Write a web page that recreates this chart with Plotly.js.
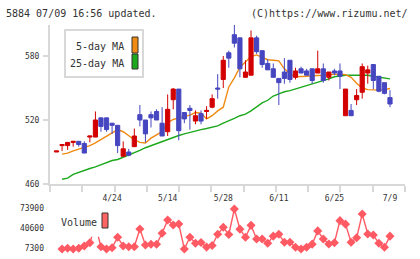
<!DOCTYPE html>
<html>
<head>
<meta charset="utf-8">
<script src="https://cdn.plot.ly/plotly-3.0.1.min.js"></script>
<style>
  html, body { margin: 0; padding: 0; background: #fff; }
  #chart { width: 420px; height: 259px; }
</style>
</head>
<body>
<div id="chart"></div>
<script>
// Daily prices for 5884, oldest first (index 0 .. 60)
const openPrice  = [490,496,496,499,500,498,504,504,522,522,517,515,486,490,495,525,520,525,528,517,
                    509,539,549,527,531,519,526,528,532,550,558,583,600,597,560,562,597,585,573,568,
                    559,565,576,560,568,566,568,564,568,560,566,566,524,529,539,546,564,572,561,555,541];
const highPrice  = [491,497,499,500,500,500,505,528,522,522,517,515,500,493,512,534,520,528,530,532,
                    544,550,549,527,534,529,529,533,544,563,580,585,612,597,576,604,599,585,577,573,
                    559,578,576,569,570,568,568,585,573,565,568,573,549,535,549,573,571,572,561,555,548];
const lowPrice   = [490,491,492,495,495,489,499,504,509,509,507,489,486,486,495,514,499,513,520,505,
                    505,530,501,517,511,516,516,521,531,540,550,569,588,560,560,562,582,569,567,560,
                    534,554,555,558,564,562,554,564,555,557,562,549,524,524,534,540,554,549,546,544,532];
const closePrice = [491,497,499,500,497,489,505,520,514,511,515,496,493,487,505,520,507,522,520,505,
                    530,549,510,521,529,524,519,529,540,549,576,578,592,568,565,597,584,572,567,560,
                    555,559,558,566,564,562,557,568,557,565,564,561,549,524,543,570,567,557,547,545,535];

// Moving averages (first session has no value)
const ma5  = [null,488,489,491,492.5,494.5,496,498.5,501.5,504.5,508,511,509,505.5,501.5,499,498.5,503,506,509,
              517.5,520.5,522,523,524.5,527,526.5,521,524,528.5,532,551,559.5,569.5,575,579.5,581,579,576.5,576,
              575.5,568,563.5,560.5,560.5,561,561.5,561.5,562,562.5,563,563,562.5,560,554.5,550,548.5,548,548,548.5,549.5];
const ma25 = [null,464.5,465.5,469,471,473,474.5,476,478,480,482,483,485,487.5,489.5,491.5,494,496,497.5,499.5,
              502,504,505.5,507,508.5,509.5,511,512,513.5,514.5,517,519,521.5,524,525.5,528.5,532,536,538.5,542.5,
              544.5,546.5,547.5,549,550.5,552,553.5,555,556.5,558.5,560.5,561.5,562,562,562,562,562,561,560,559.5,558.5];

// Daily volume (shares)
const volume = [null,5600,6800,5600,6800,10600,16100,45000,9500,5600,7800,25100,10600,9500,9500,38900,12300,13500,13500,31800,
                53900,45600,47300,5600,25100,15100,16500,8800,11500,30100,41800,29800,72200,38700,25100,45000,22300,22300,15100,27000,
                30300,16800,16800,8500,5600,8500,13700,35800,22300,14000,16000,52800,47000,16800,24300,63900,30600,28900,15100,8500,27000];

// Date labels every ten sessions
const labelSessions = [10, 20, 30, 40, 50, 60];
const labelDates    = ['4/24', '5/14', '5/28', '6/11', '6/25', '7/9'];

const priceTicks  = [460, 520, 580];
const volumeTicks = [7300, 40600, 73900];

const session = closePrice.map((_, i) => i);

// pixel -> paper helpers for the plot box (x 50..405, y 25..254)
const PX0 = 50, PX1 = 405, PY0 = 25, PY1 = 254;
const px = x => (x - PX0) / (PX1 - PX0);
const py = y => (PY1 - y) / (PY1 - PY0);

const RED = '#d20000', BLUE = '#4646c0', ORANGE = '#f08a12', GREEN = '#1ca81c', VOL = '#ff5a64';
const AXIS = '#d8d8d8', TEXT = '#333';
const MONO = 'DejaVu Sans Mono, monospace';

const xRange = [-1.17, 62.7];

const traces = [
  { type: 'scatter', mode: 'lines', x: session, y: ma25, xaxis: 'x', yaxis: 'y',
    line: { color: GREEN, width: 1.4 }, connectgaps: false, hoverinfo: 'skip' },
  { type: 'scatter', mode: 'lines', x: session, y: ma5, xaxis: 'x', yaxis: 'y',
    line: { color: ORANGE, width: 1.4 }, connectgaps: false, hoverinfo: 'skip' },
  { type: 'candlestick', x: session, open: openPrice, high: highPrice, low: lowPrice, close: closePrice,
    xaxis: 'x', yaxis: 'y4', whiskerwidth: 0,
    increasing: { line: { color: RED, width: 1 }, fillcolor: RED },
    decreasing: { line: { color: BLUE, width: 1 }, fillcolor: BLUE } },
  { type: 'scatter', mode: 'lines+markers', x: session, y: volume, xaxis: 'x2', yaxis: 'y2',
    line: { color: VOL, width: 1.4 }, marker: { symbol: 'diamond', size: 7, color: VOL },
    connectgaps: false, hoverinfo: 'skip' },
  // empty trace so the tick-mark axis is laid out
  { type: 'scatter', mode: 'lines', x: [], y: [], xaxis: 'x3', yaxis: 'y', hoverinfo: 'skip' }
];

const layout = {
  width: 420, height: 259,
  margin: { l: PX0, r: 420 - PX1, t: PY0, b: 259 - PY1, pad: 0 },
  paper_bgcolor: '#fff', plot_bgcolor: '#fff',
  showlegend: false,
  font: { family: MONO, size: 8, color: TEXT },
  boxgap: 0.25, boxgroupgap: 0,
  xaxis: {
    domain: [0, 1], anchor: 'y', range: xRange, fixedrange: true,
    tickmode: 'array', tickvals: labelSessions, ticktext: labelDates,
    ticks: '', showline: false, showgrid: false, zeroline: false,
    ticklabelstandoff: 8, tickfont: { family: MONO, size: 8, color: TEXT },
    rangeslider: { visible: false }
  },
  xaxis3: {
    overlaying: 'x', anchor: 'y', range: [0, 11], fixedrange: true,
    tickmode: 'array', tickvals: [0,1,2,3,4,5,6,7,8,9,10,11],
    ticks: 'outside', ticklen: 6, tickwidth: 2, tickcolor: AXIS,
    showticklabels: false, showline: true, linecolor: AXIS, linewidth: 2,
    showgrid: false, zeroline: false
  },
  yaxis: {
    domain: [py(184), 1], anchor: 'x', range: [460, 609.06], fixedrange: true,
    tickmode: 'array', tickvals: priceTicks, ticktext: priceTicks.map(String),
    ticks: 'outside', ticklen: 5, tickwidth: 2, tickcolor: AXIS,
    showline: true, linecolor: AXIS, linewidth: 2,
    showgrid: false, zeroline: false,
    ticklabelstandoff: 2, tickfont: { family: MONO, size: 8, color: TEXT }
  },
  yaxis4: {
    overlaying: 'y', anchor: 'x', range: [460, 609.06], visible: false, fixedrange: true
  },
  xaxis2: {
    domain: [0, 1], anchor: 'y2', range: xRange, fixedrange: true,
    showticklabels: false, ticks: '', showline: false, showgrid: false, zeroline: false
  },
  yaxis2: {
    domain: [0, py(204)], anchor: 'x2', range: [-2690, 80560], fixedrange: true,
    tickmode: 'array', tickvals: volumeTicks, ticktext: volumeTicks.map(String),
    ticks: '', showline: false, showgrid: false, zeroline: false,
    ticklabelstandoff: 5, tickfont: { family: MONO, size: 8, color: TEXT }
  },
  shapes: [
    // price legend frame
    { type: 'rect', xref: 'paper', yref: 'paper', layer: 'above',
      x0: px(65), x1: px(143), y0: py(77), y1: py(30),
      line: { color: AXIS, width: 2 }, fillcolor: '#fff' },
    { type: 'rect', xref: 'paper', yref: 'paper', layer: 'above',
      x0: px(132), x1: px(138), y0: py(53), y1: py(37),
      line: { color: '#333', width: 1 }, fillcolor: ORANGE },
    { type: 'rect', xref: 'paper', yref: 'paper', layer: 'above',
      x0: px(132), x1: px(138), y0: py(69), y1: py(54),
      line: { color: '#333', width: 1 }, fillcolor: GREEN },
    // volume legend background
    { type: 'rect', xref: 'paper', yref: 'paper', layer: 'above',
      x0: px(54), x1: px(113), y0: py(236.7), y1: py(206),
      line: { width: 0 }, fillcolor: '#fff' },
    { type: 'rect', xref: 'paper', yref: 'paper', layer: 'above',
      x0: px(102), x1: px(108), y0: py(228), y1: py(213),
      line: { color: '#333', width: 1 }, fillcolor: '#ff6464' }
  ],
  annotations: [
    { xref: 'paper', yref: 'paper', x: px(4), y: py(13), xanchor: 'left', yanchor: 'middle',
      text: '5884 07/09 16:56 updated.', showarrow: false, font: { family: MONO, size: 10, color: TEXT } },
    { xref: 'paper', yref: 'paper', x: px(410), y: py(13), xanchor: 'right', yanchor: 'middle',
      text: '(C)https://www.rizumu.net/', showarrow: false, font: { family: MONO, size: 10, color: TEXT } },
    { xref: 'paper', yref: 'paper', x: px(126), y: py(46), xanchor: 'right', yanchor: 'middle',
      text: '5-day MA', showarrow: false, font: { family: MONO, size: 10, color: TEXT } },
    { xref: 'paper', yref: 'paper', x: px(126), y: py(63), xanchor: 'right', yanchor: 'middle',
      text: '25-day MA', showarrow: false, font: { family: MONO, size: 10, color: TEXT } },
    { xref: 'paper', yref: 'paper', x: px(59), y: py(222), xanchor: 'left', yanchor: 'middle',
      text: 'Volume', showarrow: false, font: { family: MONO, size: 10, color: TEXT } }
  ]
};

Plotly.newPlot('chart', traces, layout, { staticPlot: true, displayModeBar: false });
</script>
</body>
</html>
